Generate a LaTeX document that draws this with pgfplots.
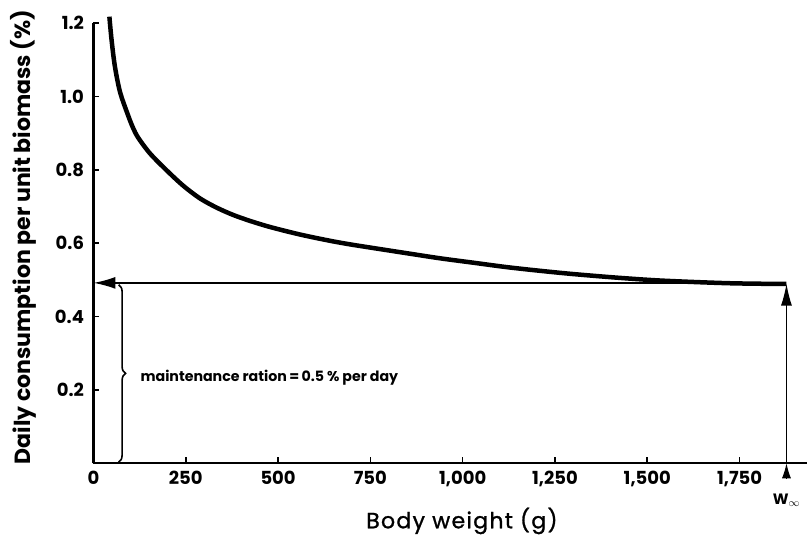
\documentclass[border=0pt]{standalone}
\usepackage{fontspec}
\setmainfont{Poppins}
\newfontfamily\xlabfont[LetterSpace=6, FakeBold=1.2]{Poppins}
\usepackage{pgfplots}
\pgfplotsset{compat=1.18}
\usetikzlibrary{arrows.meta,decorations.pathreplacing}

\begin{document}
\begin{tikzpicture}
\begin{axis}[
    x=0.3692bp, y=366.7bp,
    xmin=0, xmax=1932,
    ymin=0, ymax=1.2,
    axis x line=bottom,
    axis y line=left,
    axis line style={-, line width=2.2bp},
    tick align=inside,
    major tick length=6bp,
    tick style={line width=1.6bp, black},
    xtick={0,250,500,750,1000,1250,1500,1750},
    ytick={0.2,0.4,0.6,0.8,1.0,1.2},
    /pgf/number format/assume math mode=true,
    /pgf/number format/1000 sep={,},
    yticklabel style={xshift=-6bp, /pgf/number format/fixed,
        /pgf/number format/fixed zerofill, /pgf/number format/precision=1},
    ticklabel style={font=\bfseries\fontsize{18bp}{18bp}\selectfont},
    xticklabel style={yshift=-4bp},
    xlabel={Body weight (g)},
    ylabel={Daily consumption per unit biomass (\%)},
    xlabel style={at={(axis description cs:0.5165,-0.131)}, anchor=center,
        font=\xlabfont\fontsize{22bp}{22bp}\selectfont},
    ylabel style={at={(axis description cs:-0.098,0.514)}, anchor=center,
        font=\bfseries\fontsize{22bp}{22bp}\selectfont},
    clip=false,
]

% consumption curve
\addplot[black, line width=4.5bp, smooth] coordinates {
    (43,1.218)
    (49,1.154)
    (58,1.082)
    (72,1.012)
    (94,0.948)
    (107,0.915)
    (121,0.888)
    (153,0.845)
    (198,0.799)
    (243,0.757)
    (289,0.722)
    (334,0.697)
    (379,0.677)
    (424,0.661)
    (469,0.647)
    (514,0.635)
    (559,0.624)
    (605,0.614)
    (650,0.605)
    (695,0.597)
    (758,0.587)
    (848,0.573)
    (939,0.559)
    (1029,0.547)
    (1119,0.535)
    (1209,0.525)
    (1300,0.516)
    (1421,0.506)
    (1543,0.498)
    (1724,0.491)
    (1877,0.489)
};

% maintenance level and W-infinity arrows
\draw[line width=1.6bp, -{Latex[length=22bp,width=12bp]}]
    (axis cs:1877,0.492) -- (axis cs:0,0.492);
\draw[line width=1.3bp, -{Latex[length=22bp,width=11bp]}]
    (axis cs:1877,0) -- (axis cs:1877,0.49);
\draw[line width=1bp, -{Latex[length=15bp,width=9bp]}]
    (axis cs:1877,-0.041) -- (axis cs:1877,0);
\node[font=\bfseries\fontsize{15bp}{15bp}\selectfont] at (axis cs:1877,-0.1) {W$_\infty$};

\draw[line width=1.6bp, decorate, decoration={brace, amplitude=7bp}]
    (axis cs:68,0.487) -- (axis cs:68,0.003);
\node[anchor=west, font=\bfseries\fontsize{14.2bp}{15bp}\selectfont]
    at (axis cs:118,0.233) {maintenance ration\,=\,0.5 \% per day};

\coordinate (O) at (axis cs:0,0);
\end{axis}
\pgfresetboundingbox
\path (O) ++(-93.5bp,-76.7bp) rectangle ++(807bp,540bp);
\end{tikzpicture}
\end{document}
